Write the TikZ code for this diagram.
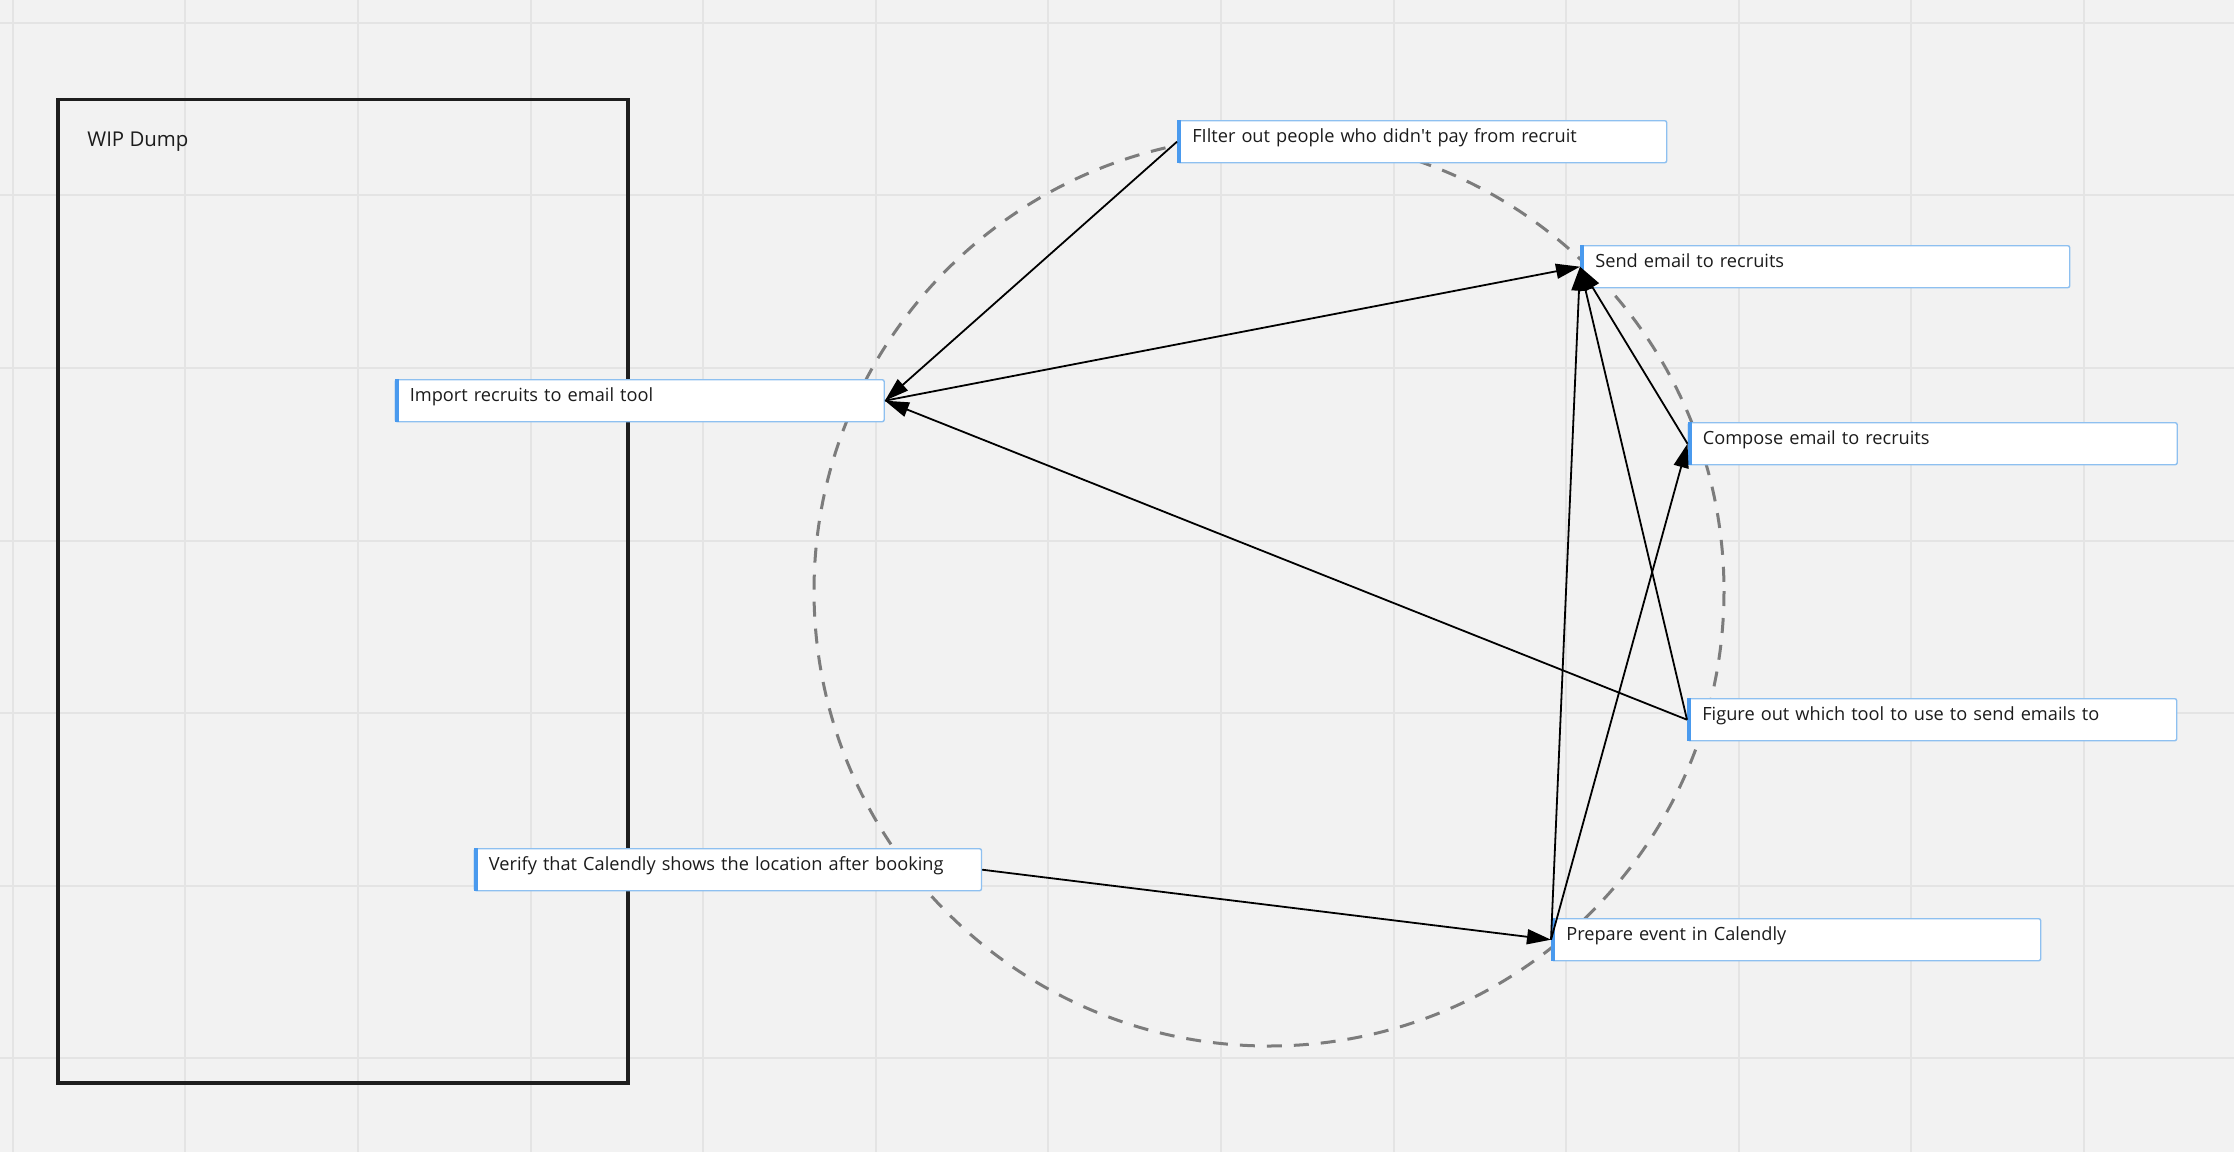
\documentclass[tikz,border=0pt]{standalone}
\usepackage{fontspec}
\setmainfont{Open Sans}[Ligatures=TeXOff]
\usetikzlibrary{arrows.meta}
\definecolor{bgcol}{HTML}{F2F2F2}
\definecolor{gridcol}{HTML}{E4E4E4}
\definecolor{boxborder}{HTML}{8EC0F0}
\definecolor{barblue}{HTML}{4A9AEE}
\definecolor{textcol}{HTML}{1C1C1C}
\definecolor{framecol}{HTML}{1E1E1E}
\definecolor{circcol}{HTML}{7C7C7C}
\tikzset{
  taskbox/.style={draw=boxborder, fill=white, line width=0.7pt, rounded corners=1pt,
    inner ysep=0pt, inner xsep=7.3pt, text height=10.85pt, text depth=10.15pt,
    anchor=north west, font=\fontsize{9.1}{11}\selectfont, text=textcol, align=left,
    text width=229.9pt},
  conn/.style={draw=black, line width=0.9pt, -{Triangle[length=12pt,width=7.5pt]}},
}
\newcommand{\leftbar}[1]{\fill[barblue] (#1.north west) rectangle ([xshift=2.2pt]#1.south west);}
\begin{document}
\begin{tikzpicture}[x=0.5pt,y=-0.5pt]
\useasboundingbox (0,0) rectangle (2234,1152);
\fill[bgcol] (0,0) rectangle (2234,1152);
% grid
\foreach \i in {0,...,12} {
  \draw[gridcol, line width=1pt] ({12.8+172.6*\i},0) -- ({12.8+172.6*\i},1152);
}
\foreach \j in {0,...,6} {
  \draw[gridcol, line width=1pt] (0,{22.8+172.6*\j}) -- (2234,{22.8+172.6*\j});
}
% frame
\draw[framecol, line width=1.8pt] (58,99.5) rectangle (628,1083);
\node[anchor=base west, inner sep=0pt, font=\fontsize{10.2}{12}\selectfont, text=textcol] (wip) at (87,146.7) {WIP Dump};
% dashed circle
\draw[circcol, line width=1.5pt, dash pattern=on 7.5pt off 6pt] (1269,591) circle (455);
% nodes
\node[taskbox] (filter) at (1177,120) {FIlter out people who didn\textquotesingle t pay from recruit};
\node[taskbox] (send) at (1580,245) {Send email to recruits};
\node[taskbox] (import) at (394.5,379) {Import recruits to email tool};
\node[taskbox] (compose) at (1687.5,422) {Compose email to recruits};
\node[taskbox] (figure) at (1687,698) {Figure out which tool to use to send emails to};
\node[taskbox] (prepare) at (1551,918) {Prepare event in Calendly};
\node[taskbox, text width=239pt] (verify) at (473.6,848) {Verify that Calendly shows the location after booking};
\leftbar{filter}
\leftbar{send}
\leftbar{import}
\leftbar{compose}
\leftbar{figure}
\leftbar{prepare}
\leftbar{verify}
% connectors
\draw[conn] (filter.west) -- (import.east);
\draw[conn] (import.east) -- (send.west);
\draw[conn] (figure.west) -- (import.east);
\draw[conn] (compose.west) -- (send.west);
\draw[conn] (figure.west) -- (send.west);
\draw[conn] (prepare.west) -- (send.west);
\draw[conn] (prepare.west) -- (compose.west);
\draw[conn] (verify.east) -- (prepare.west);
\end{tikzpicture}
\end{document}
